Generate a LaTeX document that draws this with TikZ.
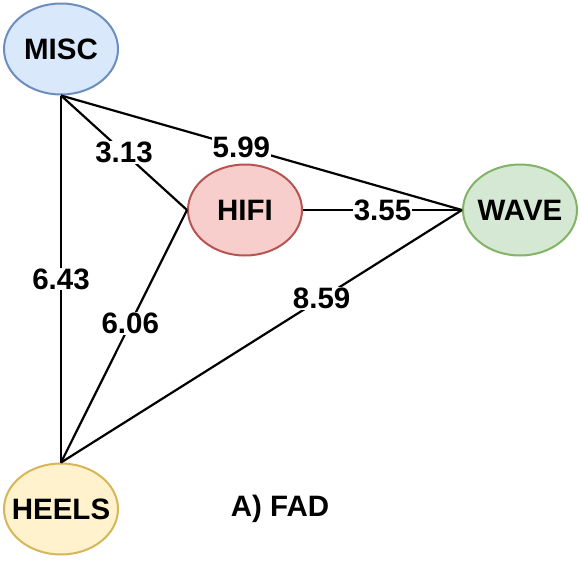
\documentclass[tikz,border=0pt]{standalone}
\usepackage{fontspec}
\setmainfont{Liberation Sans}
\usetikzlibrary{shapes.geometric}
\definecolor{miscfill}{HTML}{DAE8FC}\definecolor{miscdraw}{HTML}{6C8EBF}
\definecolor{hififill}{HTML}{F8CECC}\definecolor{hifidraw}{HTML}{B85450}
\definecolor{wavefill}{HTML}{D5E8D4}\definecolor{wavedraw}{HTML}{82B366}
\definecolor{heelfill}{HTML}{FFF2CC}\definecolor{heeldraw}{HTML}{D6B656}
\tikzset{
  ell/.style={ellipse, minimum width=114pt, minimum height=91pt, inner sep=0pt, line width=2pt, font=\fontsize{29.5}{32}\selectfont\bfseries},
  edge/.style={line width=2.2pt, black},
  wlabel/.style={fill=white, inner sep=1pt, font=\fontsize{29.5}{32}\selectfont\bfseries}
}
\newcommand{\zb}[1]{\makebox[0pt]{#1}}
\begin{document}
\begin{tikzpicture}[x=1pt,y=-1pt]
\useasboundingbox (0,0) rectangle (581,565);
\node[ell, fill=miscfill, draw=miscdraw] (misc) at (61,49) {\zb{MISC}};
\node[ell, fill=hififill, draw=hifidraw] (hifi) at (245,210) {\zb{HIFI}};
\node[ell, fill=wavefill, draw=wavedraw] (wave) at (520,210) {\zb{WAVE}};
\node[ell, fill=heelfill, draw=heeldraw] (heels) at (61,509) {\zb{HEELS}};
\draw[edge] (misc.south) -- node[wlabel, pos=0.5] (l313) {3.13} (hifi.west);
\draw[edge] (misc.south) -- node[wlabel, pos=0.45] (l599) {5.99} (wave.west);
\draw[edge] (misc.south) -- node[wlabel, pos=0.5] (l643) {6.43} (heels.north);
\draw[edge] (hifi.west) -- node[wlabel, pos=0.45] (l606) {6.06} (heels.north);
\draw[edge] (hifi.east) -- node[wlabel, pos=0.5] (l355) {3.55} (wave.west);
\draw[edge] (heels.north) -- node[wlabel, pos=0.65] (l859) {8.59} (wave.west);
\node[font=\fontsize{29.5}{32}\selectfont\bfseries] (title) at (280,509) {A) FAD};
\end{tikzpicture}
\end{document}
